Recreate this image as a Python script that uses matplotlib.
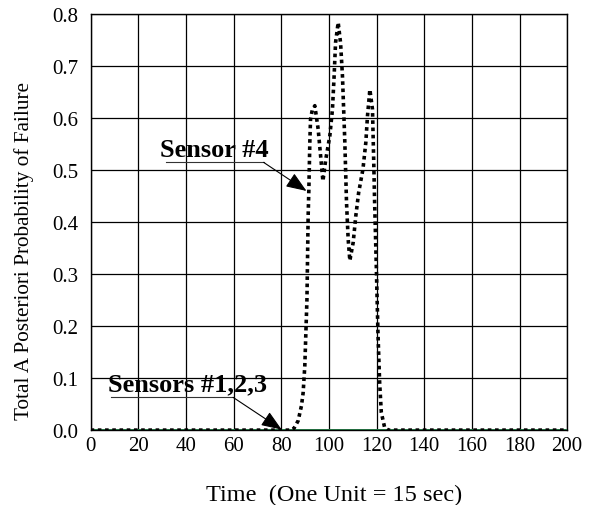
import matplotlib
matplotlib.use("Agg")
import matplotlib.pyplot as plt
import numpy as np

plt.rcParams['font.family'] = ['Liberation Serif', 'DejaVu Serif']

# Sensor #4 posterior probability
time4 = [0, 84, 85.3, 87.1, 88.5, 89.2, 89.9, 90.8, 91.3, 91.6, 92.0, 92.3, 93.0,
         94.1, 95.5, 96.4, 97.5, 98.7, 100.4, 101.5, 102.2, 102.8, 103.9, 104.9,
         105.7, 106.2, 106.7, 107.4, 108.1, 108.8, 110.2, 111.3, 112.5, 114.3,
         115.5, 116.2, 117.2, 118.3, 118.8, 119.2, 119.9, 120.6, 121.3, 122.0,
         123.4, 125, 200]
prob4 = [0, 0, 0.003, 0.018, 0.047, 0.072, 0.124, 0.252, 0.412, 0.463, 0.553, 0.598,
         0.615, 0.624, 0.579, 0.534, 0.479, 0.521, 0.566, 0.617, 0.681, 0.745, 0.784,
         0.745, 0.681, 0.617, 0.553, 0.438, 0.367, 0.326, 0.361, 0.412, 0.457, 0.502,
         0.553, 0.604, 0.655, 0.617, 0.521, 0.438, 0.316, 0.187, 0.092, 0.034, 0.005,
         0, 0]

# Sensors #1,2,3 posterior probability (flat at zero)
time123 = [0, 200]
prob123 = [0, 0]

xticks = [0, 20, 40, 60, 80, 100, 120, 140, 160, 180, 200]
yticks = [0.0, 0.1, 0.2, 0.3, 0.4, 0.5, 0.6, 0.7, 0.8]

fig = plt.figure(figsize=(6.04, 5.06), dpi=100)
ax = fig.add_axes([0.150, 0.148, 0.789, 0.822])

ax.plot(time123, prob123, color='#1e6b3c', lw=1.4, zorder=3)
ax.plot(time4, prob4, color='black', lw=2.6, linestyle=(0, (1, 1)), zorder=4)

ax.set_xlim(0, 200)
ax.set_ylim(0, 0.8)
ax.set_xticks(xticks)
ax.set_yticks(yticks)
ax.set_xticklabels([str(t) for t in xticks])
ax.set_yticklabels([f"{t:.1f}" for t in yticks])
ax.tick_params(length=0, labelsize=15)
ax.tick_params(axis='y', pad=9)
ax.tick_params(axis='x', pad=4)
ax.grid(True, color='black', lw=0.9, zorder=1)
for s in ax.spines.values():
    s.set_linewidth(1.0)
    s.set_color('black')

ax.set_xlabel('Time  (One Unit = 15 sec)', fontsize=17.5, labelpad=21)
ax.xaxis.label.set_x(0.512)
ax.set_ylabel('Total A Posteriori Probability of Failure', fontsize=15.3)
ax.yaxis.set_label_coords(-0.118, 0.433)

arrow_kw = dict(arrowstyle='-|>,head_length=0.9,head_width=0.35', mutation_scale=14,
                lw=0.8, color='black', shrinkA=0, shrinkB=0)

# Annotations
ax.text(29.1, 0.527, 'Sensor #4', fontsize=19, fontweight='bold', ha='left', va='baseline', zorder=5)
ax.plot([31.6, 72.6], [0.515, 0.515], color='#333333', lw=0.8, zorder=5)
ax.annotate('', xy=(90.6, 0.46), xytext=(72.6, 0.515), arrowprops=arrow_kw, zorder=5)

ax.text(7.3, 0.0756, 'Sensors #1,2,3', fontsize=19, fontweight='bold', ha='left', va='baseline', zorder=5)
ax.plot([8.4, 59.8], [0.063, 0.063], color='#333333', lw=0.8, zorder=5)
ax.annotate('', xy=(80.2, 0.001), xytext=(59.8, 0.063), arrowprops=arrow_kw, zorder=5)

fig.savefig('out.png', dpi=100)
